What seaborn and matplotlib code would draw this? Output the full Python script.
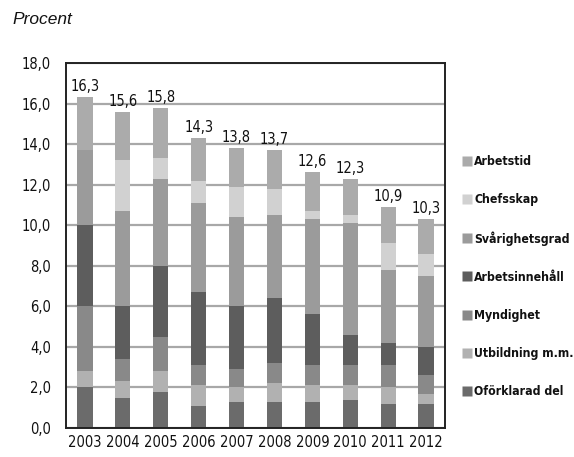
import matplotlib
matplotlib.use('Agg')
import matplotlib.pyplot as plt
from matplotlib.lines import Line2D
import seaborn as sns
import numpy as np
import pandas as pd

# Data: components per year (bottom -> top of the stack)
years = ['2003', '2004', '2005', '2006', '2007', '2008', '2009', '2010', '2011', '2012']
totals = [16.3, 15.6, 15.8, 14.3, 13.8, 13.7, 12.6, 12.3, 10.9, 10.3]

oforklarad = [2.0, 1.5, 1.8, 1.1, 1.3, 1.3, 1.3, 1.4, 1.2, 1.2]
utbildning = [0.8, 0.8, 1.0, 1.0, 0.7, 0.9, 0.8, 0.7, 0.8, 0.5]
myndighet = [3.2, 1.1, 1.7, 1.0, 0.9, 1.0, 1.0, 1.0, 1.1, 0.9]
arbetsinnehall = [4.0, 2.6, 3.5, 3.6, 3.1, 3.2, 2.5, 1.5, 1.1, 1.4]
svarighetsgrad = [3.7, 4.7, 4.3, 4.4, 4.4, 4.1, 4.7, 5.5, 3.6, 3.5]
chefsskap = [0.0, 2.5, 1.0, 1.1, 1.5, 1.3, 0.4, 0.4, 1.3, 1.1]
arbetstid = [2.6, 2.4, 2.5, 2.1, 1.9, 1.9, 1.9, 1.8, 1.8, 1.7]

series = [
    ('Oförklarad del', oforklarad, '#6b6b6b'),
    ('Utbildning m.m.', utbildning, '#b1b1b1'),
    ('Myndighet', myndighet, '#898989'),
    ('Arbetsinnehåll', arbetsinnehall, '#5d5d5d'),
    ('Svårighetsgrad', svarighetsgrad, '#9b9b9b'),
    ('Chefsskap', chefsskap, '#d1d1d1'),
    ('Arbetstid', arbetstid, '#ababab'),
]

sns.set_style('white')
plt.rcParams['font.family'] = ['DejaVu Sans']
plt.rcParams['font.stretch'] = 'condensed'
plt.rcParams['text.color'] = '#111111'
plt.rcParams['xtick.color'] = '#111111'
plt.rcParams['ytick.color'] = '#111111'

fig = plt.figure(figsize=(5.74, 4.57), dpi=100)
ax = fig.add_axes([66 / 574, 1 - 428 / 457, (445 - 66) / 574, (428 - 63) / 457])

# gridlines behind bars
ax.set_axisbelow(True)
ax.yaxis.grid(True, color='#a8a8a8', linewidth=1.6)

bottom = np.zeros(len(years))
for name, vals, color in series:
    df = pd.DataFrame({'year': years, 'value': vals})
    sns.barplot(data=df, x='year', y='value', color=color, width=0.4,
                bottom=bottom, ax=ax, errorbar=None, saturation=1,
                edgecolor='none', linewidth=0)
    bottom = bottom + np.array(vals)

# total labels on top
for i, t in enumerate(totals):
    ax.text(i, t + 0.15, f'{t:.1f}'.replace('.', ','), ha='center', va='bottom',
            fontsize=10.5)

ax.set_xlim(-0.5, len(years) - 0.5)
ax.set_ylim(0, 18)
yt = np.arange(0, 18.1, 2)
ax.set_yticks(yt)
ax.set_yticklabels([f'{v:.1f}'.replace('.', ',') for v in yt], fontsize=10.5)
ax.set_xticks(range(len(years)))
ax.set_xticklabels(years, fontsize=10.5)
ax.set_xticks(np.arange(0.5, len(years) - 1, 1), minor=True)
ax.tick_params(axis='x', which='major', length=0, pad=5)
ax.tick_params(axis='x', which='minor', direction='in', length=6, width=1.2, color='#222222')
ax.tick_params(axis='y', which='major', direction='in', length=5, width=1.2, color='#222222', pad=11)
ax.set_xlabel('')
ax.set_ylabel('')
for s in ax.spines.values():
    s.set_color('#222222')
    s.set_linewidth(1.4)
    s.set_visible(True)

fig.text(12 / 574, 1 - 20 / 457, 'Procent', style='italic', fontsize=12.5,
         family=['Liberation Sans', 'DejaVu Sans'], stretch='normal',
         va='center', ha='left')

handles = [Line2D([0], [0], marker='s', linestyle='none', markersize=7.2,
                  markerfacecolor=c, markeredgecolor='none') for _, _, c in series[::-1]]
labels = [n for n, _, _ in series[::-1]]
leg = fig.legend(handles, labels, loc='upper left',
                 bbox_to_anchor=(461.5 / 574, 1 - 155 / 457), frameon=False,
                 handlelength=0.85, handletextpad=0.2, labelspacing=2.05,
                 borderaxespad=0, borderpad=0,
                 prop={'family': 'DejaVu Sans', 'stretch': 'condensed',
                       'weight': 'bold', 'size': 8.8})

fig.savefig('out.png', dpi=100)
